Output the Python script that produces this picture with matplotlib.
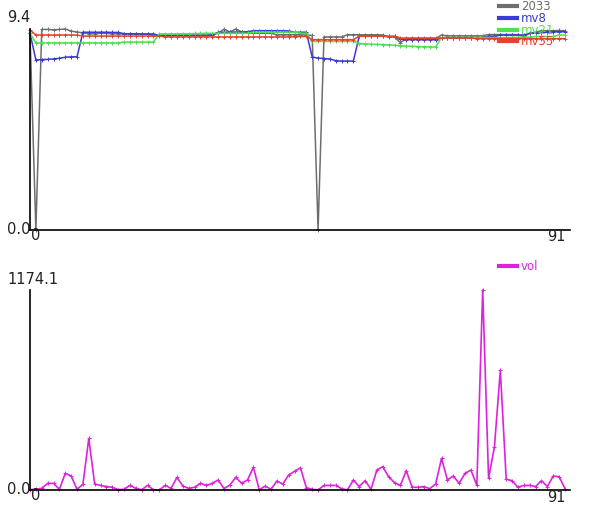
import matplotlib.pyplot as plt
from matplotlib.lines import Line2D
import numpy as np

# Data
close_2033 = [9.2, 0.0, 9.38, 9.38, 9.36, 9.38, 9.4, 9.3, 9.26, 9.22,
              9.18, 9.18, 9.2, 9.19, 9.18, 9.18, 9.17, 9.17, 9.17, 9.16,
              9.16, 9.11, 9.11, 9.11, 9.11, 9.11, 9.11, 9.11, 9.11, 9.11,
              9.11, 9.12, 9.2, 9.39, 9.26, 9.4, 9.26, 9.2, 9.2, 9.21,
              9.2, 9.2, 9.13, 9.13, 9.13, 9.14, 9.13, 9.12, 9.1, 0.0,
              9.03, 9.03, 9.03, 9.03, 9.13, 9.13, 9.13, 9.13, 9.13, 9.13,
              9.12, 9.03, 9.03, 8.76, 8.95, 8.95, 8.95, 8.95, 8.95, 8.95,
              9.12, 9.08, 9.08, 9.08, 9.08, 9.08, 9.08, 9.08, 9.14, 9.14,
              9.14, 9.14, 9.14, 9.14, 9.05, 9.2, 9.25, 9.32, 9.32, 9.32,
              9.33, 9.32]
mv8 = [9.2, 7.95, 7.97, 7.98, 8.0, 8.03, 8.08, 8.1, 8.1, 9.25,
       9.25, 9.25, 9.25, 9.25, 9.24, 9.24, 9.18, 9.18, 9.18, 9.17,
       9.17, 9.17, 9.1, 9.1, 9.1, 9.1, 9.1, 9.1, 9.1, 9.1,
       9.1, 9.12, 9.25, 9.25, 9.25, 9.26, 9.26, 9.27, 9.32, 9.32,
       9.32, 9.32, 9.32, 9.32, 9.31, 9.25, 9.25, 9.25, 8.09, 8.04,
       8.02, 8.0, 7.92, 7.9, 7.9, 7.9, 9.06, 9.06, 9.06, 9.06,
       9.06, 9.05, 9.05, 8.92, 8.9, 8.9, 8.9, 8.9, 8.9, 8.9,
       8.97, 8.97, 8.97, 8.97, 8.97, 8.97, 8.97, 8.98, 9.05, 9.05,
       9.12, 9.12, 9.12, 9.12, 9.12, 9.2, 9.2, 9.2, 9.26, 9.27,
       9.27, 9.28]
mv21 = [9.2, 8.75, 8.75, 8.75, 8.75, 8.75, 8.75, 8.75, 8.75, 8.75,
        8.75, 8.75, 8.75, 8.75, 8.75, 8.75, 8.79, 8.79, 8.79, 8.79,
        8.79, 8.79, 9.17, 9.17, 9.17, 9.17, 9.18, 9.18, 9.19, 9.19,
        9.2, 9.2, 9.2, 9.2, 9.2, 9.2, 9.2, 9.2, 9.25, 9.25,
        9.25, 9.25, 9.25, 9.25, 9.25, 9.25, 9.2, 9.2, 8.82, 8.82,
        8.82, 8.82, 8.82, 8.82, 8.82, 8.82, 8.72, 8.71, 8.69, 8.68,
        8.67, 8.66, 8.64, 8.62, 8.6, 8.59, 8.58, 8.57, 8.56, 8.56,
        9.0, 9.0, 9.0, 9.0, 9.0, 9.0, 9.0, 9.0, 9.0, 9.0,
        9.0, 9.0, 9.01, 9.01, 9.02, 9.02, 9.05, 9.05, 9.05, 9.05,
        9.12, 9.12]
mv55 = [9.35, 9.12, 9.12, 9.12, 9.12, 9.12, 9.12, 9.12, 9.12, 9.07,
        9.07, 9.07, 9.07, 9.07, 9.07, 9.07, 9.07, 9.07, 9.07, 9.07,
        9.07, 9.07, 9.07, 9.03, 9.03, 9.03, 9.03, 9.03, 9.03, 9.03,
        9.03, 9.03, 9.03, 9.03, 9.03, 9.03, 9.03, 9.03, 9.03, 9.03,
        9.03, 9.03, 9.03, 9.03, 9.03, 9.04, 9.05, 9.05, 8.9, 8.9,
        8.9, 8.9, 8.9, 8.9, 8.9, 8.9, 9.06, 9.06, 9.06, 9.06,
        9.06, 9.06, 9.06, 8.98, 8.98, 8.98, 8.98, 8.98, 8.98, 8.98,
        8.98, 8.98, 8.98, 8.98, 8.98, 8.98, 8.95, 8.95, 8.95, 8.95,
        8.95, 8.95, 8.95, 8.95, 8.95, 8.95, 8.95, 8.95, 8.95, 8.95,
        8.95, 8.95]
vol = [2, 4, 10, 39, 39, 4, 98, 82, 4, 33,
       303, 35, 27, 20, 16, 2, 4, 27, 10, 1,
       27, 1, 0, 27, 10, 74, 23, 10, 16, 39,
       27, 39, 59, 8, 29, 74, 39, 59, 133, 1,
       23, 4, 53, 35, 88, 110, 130, 14, 4, 0,
       27, 27, 27, 8, 0, 59, 20, 55, 4, 117,
       137, 78, 43, 27, 114, 16, 16, 20, 8, 35,
       186, 59, 82, 39, 98, 117, 27, 1174.1, 68, 254,
       704, 63, 55, 16, 27, 27, 20, 55, 20, 82,
       78, 8]

top_series = [("2033", close_2033, "#6e6e6e"),
              ("mv8", mv8, "#3a3ad8"),
              ("mv21", mv21, "#4fe04f"),
              ("mv55", mv55, "#e2442c")]
vol_color = "#dd22dd"

x = np.arange(len(vol))
xmax = len(vol) - 1
W, H = 600, 520


def px(xp, yp):
    return xp / W, 1 - yp / H


fig = plt.figure(figsize=(6, 5.2), dpi=100)
ax1 = fig.add_axes([0.05, 1 - 230 / H, 0.9, 201 / H])
ax2 = fig.add_axes([0.05, 1 - 490 / H, 0.9, 200 / H])

for label, ys, c in top_series:
    ax1.plot(x, ys, color=c, lw=1.1, marker="+", ms=3, mew=0.7, clip_on=False)
ax2.plot(x, vol, color=vol_color, lw=1.2, marker="+", ms=3, mew=0.7, clip_on=False)

top_max = max(max(s) for _, s, _ in top_series)
ax1.set_ylim(0, top_max)
ax2.set_ylim(0, max(vol))

for ax in (ax1, ax2):
    ax.set_xlim(0, xmax * 540 / 535)
    ax.set_xticks([])
    ax.set_yticks([])
    for side in ("top", "right"):
        ax.spines[side].set_visible(False)
    for side in ("left", "bottom"):
        ax.spines[side].set_linewidth(1.2)
        ax.spines[side].set_color("black")

# axis texts
tc = "#222222"
fs = 10.5
fig.text(*px(7, 17), f"{top_max:.1f}", fontsize=fs, color=tc, va="center")
fig.text(*px(7, 230), "0.0", fontsize=fs, color=tc, va="center")
fig.text(*px(36, 236), "0", fontsize=fs, color=tc, va="center", ha="center")
fig.text(*px(566, 237), str(xmax), fontsize=fs, color=tc, va="center", ha="right")

fig.text(*px(7, 279), f"{max(vol):.1f}", fontsize=fs, color=tc, va="center")
fig.text(*px(7, 490), "0.0", fontsize=fs, color=tc, va="center")
fig.text(*px(36, 496), "0", fontsize=fs, color=tc, va="center", ha="center")
fig.text(*px(566, 497), str(xmax), fontsize=fs, color=tc, va="center", ha="right")

# legends
handles = [Line2D([], [], color=c, lw=3) for _, _, c in top_series]
ax1.legend(handles, [l for l, _, _ in top_series], loc="upper left",
           bbox_to_anchor=px(499, 0), bbox_transform=fig.transFigure,
           frameon=False, fontsize=8.5, handlelength=1.5, handletextpad=0.35,
           labelspacing=-0.1, borderpad=0, borderaxespad=0, labelcolor="linecolor")
ax2.legend([Line2D([], [], color=vol_color, lw=3)], ["vol"], loc="upper left",
           bbox_to_anchor=px(499, 260), bbox_transform=fig.transFigure,
           frameon=False, fontsize=8.5, handlelength=1.5, handletextpad=0.35,
           borderpad=0, borderaxespad=0, labelcolor="linecolor")

fig.savefig("out.png", dpi=100)
